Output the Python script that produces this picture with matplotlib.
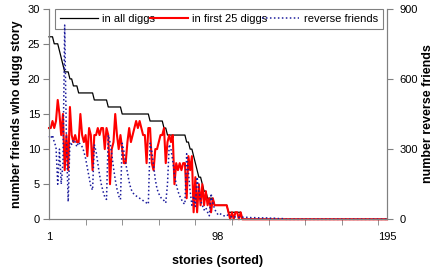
import matplotlib
matplotlib.use("Agg")
import matplotlib.pyplot as plt
import numpy as np

plt.rcParams["font.family"] = ["Liberation Sans", "DejaVu Sans"]

# stories 1..195, values
all_diggs = [26, 26, 26, 25, 25, 25, 24, 23, 22, 21,
             21, 21, 20, 20, 19, 19, 19, 18, 18, 18,
             18, 18, 18, 18, 18, 18, 17, 17, 17, 17,
             17, 17, 17, 17, 16, 16, 16, 16, 16, 16,
             16, 16, 15, 15, 15, 15, 15, 15, 15, 15,
             15, 15, 15, 15, 15, 15, 15, 15, 14, 14,
             14, 14, 14, 14, 14, 14, 13, 13, 12, 12,
             12, 12, 12, 12, 12, 12, 12, 12, 12, 11,
             11, 10, 10, 9, 8, 7, 6, 6, 5, 4,
             4, 3, 3, 3, 3, 2, 2, 2, 2, 2,
             2, 2, 2, 1, 1, 1, 1, 1, 1, 1,
             1, 0, 0, 0, 0, 0, 0, 0, 0, 0,
             0, 0, 0, 0, 0, 0, 0, 0, 0, 0,
             0, 0, 0, 0, 0, 0, 0, 0, 0, 0,
             0, 0, 0, 0, 0, 0, 0, 0, 0, 0,
             0, 0, 0, 0, 0, 0, 0, 0, 0, 0,
             0, 0, 0, 0, 0, 0, 0, 0, 0, 0,
             0, 0, 0, 0, 0, 0, 0, 0, 0, 0,
             0, 0, 0, 0, 0, 0, 0, 0, 0, 0,
             0, 0, 0, 0, 0]

first_25 = [13, 13, 14, 13, 14, 17, 15, 12, 15, 7,
            12, 7, 16, 12, 11, 12, 11, 11, 15, 12,
            11, 12, 9, 13, 12, 7, 12, 12, 13, 12,
            13, 13, 10, 13, 12, 5, 10, 11, 15, 12,
            10, 12, 10, 8, 8, 11, 13, 11, 12, 13,
            14, 13, 14, 13, 12, 12, 8, 13, 13, 8,
            7, 10, 10, 11, 12, 12, 13, 8, 11, 12,
            11, 12, 5, 8, 7, 8, 7, 8, 8, 3,
            9, 7, 9, 1, 6, 1, 5, 2, 5, 2,
            4, 2, 3, 1, 3, 2, 2, 2, 2, 2,
            2, 2, 2, 1, 0, 1, 0, 1, 1, 0,
            1, 0, 0, 0, 0, 0, 0, 0, 0, 0,
            0, 0, 0, 0, 0, 0, 0, 0, 0, 0,
            0, 0, 0, 0, 0, 0, 0, 0, 0, 0,
            0, 0, 0, 0, 0, 0, 0, 0, 0, 0,
            0, 0, 0, 0, 0, 0, 0, 0, 0, 0,
            0, 0, 0, 0, 0, 0, 0, 0, 0, 0,
            0, 0, 0, 0, 0, 0, 0, 0, 0, 0,
            0, 0, 0, 0, 0, 0, 0, 0, 0, 0,
            0, 0, 0, 0, 0]

reverse_friends = [355, 345, 360, 330, 310, 150, 300, 150, 240, 830,
                   330, 75, 330, 320, 340, 330, 310, 330, 320, 310,
                   290, 260, 220, 180, 140, 125, 320, 290, 240, 190,
                   150, 120, 95, 85, 360, 330, 280, 220, 170, 130,
                   100, 85, 325, 290, 240, 200, 160, 130, 115, 105,
                   100, 95, 90, 85, 80, 75, 70, 65, 325, 290,
                   230, 170, 130, 110, 95, 85, 80, 70, 150, 320,
                   300, 250, 190, 150, 120, 100, 85, 70, 65, 280,
                   200, 120, 60, 100, 55, 180, 120, 80, 60, 40,
                   50, 30, 15, 110, 70, 45, 30, 20, 25, 20,
                   15, 15, 20, 15, 12, 10, 12, 10, 10, 9,
                   9, 9, 8, 9, 8, 8, 7, 8, 7, 7,
                   6, 7, 6, 6, 5, 6, 5, 5, 4, 5,
                   4, 4, 3, 4, 3, 3, 0, 0, 0, 0,
                   0, 0, 0, 0, 0, 0, 0, 0, 0, 0,
                   0, 0, 0, 0, 0, 0, 0, 0, 0, 0,
                   0, 0, 0, 0, 0, 0, 0, 0, 0, 0,
                   0, 0, 0, 0, 0, 0, 0, 0, 0, 0,
                   0, 0, 0, 0, 0, 0, 0, 0, 0, 0,
                   0, 0, 0, 0, 0]

stories = np.arange(1, len(all_diggs) + 1)

fig = plt.figure(figsize=(4.42, 2.77), dpi=100)
ax = fig.add_axes([0.1109, 0.2083, 0.7647, 0.7603])
ax2 = ax.twinx()

l1, = ax.plot(stories, all_diggs, color='black', lw=0.9, clip_on=False, label='in all diggs')
l2, = ax.plot(stories, first_25, color='#ff0000', lw=1.5, clip_on=False, label='in first 25 diggs')
l3, = ax2.plot(stories, reverse_friends, color='#1c1c9c', lw=1.1, dashes=(1, 1.6), clip_on=False,
               label='reverse friends')

ax.set_xlim(1, 195)
ax.set_ylim(0, 30)
ax2.set_ylim(0, 900)

ax.set_xticks([1, 98, 195])
ax.set_xticks(np.arange(1, 196, 21), minor=True)
ax.set_yticks(np.arange(0, 31, 5))
ax2.set_yticks([0, 300, 600, 900])

grey = '#808080'
for a in (ax, ax2):
    a.spines['top'].set_visible(False)
    for s in ('left', 'right', 'bottom'):
        a.spines[s].set_color(grey)
ax.tick_params(axis='x', which='major', length=0, pad=9, labelsize=8)
ax.tick_params(axis='x', which='minor', length=4, color=grey, direction='out')
ax.tick_params(axis='y', length=4, color=grey, pad=2.4, labelsize=8)
ax2.tick_params(axis='y', length=4, color=grey, pad=4.8, labelsize=8)

ax.set_xlabel('stories (sorted)', fontsize=9, fontweight='bold')
ax.set_ylabel('number friends who dugg story', fontsize=9, fontweight='bold')
ax2.set_ylabel('number reverse friends', fontsize=9, fontweight='bold', rotation=90)
ax.xaxis.label.set_va('center')
ax.yaxis.label.set_va('center')
ax2.yaxis.label.set_va('center')
ax.xaxis.set_label_coords(0.5, -0.2)
ax.yaxis.set_label_coords(-0.0947, 0.5)
ax2.yaxis.set_label_coords(1.122, 0.5)

leg = ax.legend(handles=[l1, l2, l3], loc='lower left', ncol=3, mode='expand',
                bbox_to_anchor=(0.018, 0.904, 0.97, 0.071), fontsize=8,
                fancybox=False, framealpha=1, edgecolor=grey,
                handlelength=3.4, handletextpad=0.4, columnspacing=0.6,
                borderpad=0.45, borderaxespad=0)
leg.get_frame().set_linewidth(0.8)

fig.savefig('out.png', dpi=100)
